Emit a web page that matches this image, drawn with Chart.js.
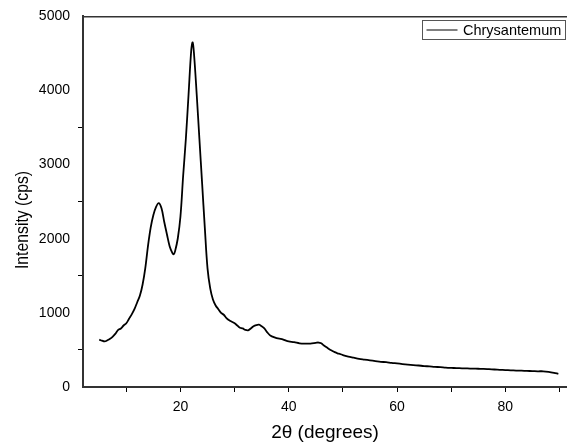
<!DOCTYPE html>
<html><head><meta charset="utf-8">
<script src="https://cdn.jsdelivr.net/npm/chart.js@4/dist/chart.umd.min.js"></script>
<style>html,body{margin:0;padding:0;background:#fff}#wrap{width:567px;height:445px}</style>
</head><body><div id="wrap"><canvas id="c" width="567" height="445"></canvas></div>
<script>
const seriesName = 'Chrysantemum';
const xTitle = '2\u03B8 (degrees)';
const yTitle = 'Intensity (cps)';
const angles = [
  5.0,5.5,6.0,6.5,7.0,7.5,8.0,8.5,9.0,9.5,10.0,10.5,11.0,11.5,12.0,12.5,13.0,13.5,14.0,14.5,
  15.0,15.5,16.0,16.5,17.0,17.5,18.0,18.5,18.75,19.0,19.5,20.0,20.5,21.0,21.5,22.0,22.25,22.5,23.0,23.5,
  24.0,24.5,25.0,25.5,26.0,26.5,27.0,27.5,28.0,28.5,29.0,29.5,30.0,30.5,31.0,31.5,32.0,32.5,33.0,33.5,
  34.0,34.5,35.0,35.5,36.0,36.5,37.0,37.5,38.0,38.5,39.0,39.5,40.0,41.0,42.0,43.0,44.0,45.0,45.5,46.0,
  46.5,47.0,47.5,48.0,48.5,49.0,49.5,50.0,51.0,52.0,53.0,54.0,55.0,56.0,57.0,58.0,59.0,60.0,61.0,62.0,
  63.0,64.0,65.0,66.0,67.0,68.0,69.0,70.0,71.0,72.0,73.0,74.0,75.0,76.0,77.0,78.0,79.0,80.0,81.0,82.0,
  83.0,84.0,85.0,86.0,87.0,88.0,89.0,89.8
];
const intensities = [
  640,625,615,630,650,680,720,770,790,830,860,920,980,1050,1140,1230,1380,1600,1900,2150,
  2320,2430,2480,2410,2230,2060,1900,1810,1790,1830,2000,2300,2850,3350,3950,4550,4650,4500,3950,3350,
  2750,2150,1600,1330,1180,1100,1050,1000,975,930,900,880,860,830,800,790,770,765,790,820,
  835,840,820,790,740,700,680,665,655,650,640,625,615,605,590,585,585,595,600,590,
  560,535,510,490,470,455,445,430,410,395,380,370,360,350,340,335,325,318,310,303,
  296,290,283,278,272,268,262,258,255,252,250,248,246,244,240,236,232,228,225,222,
  220,217,215,212,212,205,192,178
];
const xTickValues = [10,20,30,40,50,60,70,80,90];
const xLabelValues = [20,40,60,80];
const yTickValues = [0,500,1000,1500,2000,2500,3000,3500,4000,4500,5000];
const yLabelValues = [0,1000,2000,3000,4000,5000];
const yMarkedTicks = [500,1500,2500,3500];
const xMin = 2, xMax = 91.4, yMin = 0, yMax = 5000;

const FONT = "'Liberation Sans', Arial, sans-serif";
const points = angles.map((a, i) => ({x: a, y: intensities[i]}));

const legendPlugin = {
  id: 'boxLegend',
  afterDraw(chart) {
    const {ctx, chartArea} = chart;
    const ds = chart.data.datasets[0];
    const right = chartArea.right - 2.5;
    const left = right - 143;
    const top = 20;
    const h = 19;
    ctx.save();
    ctx.strokeStyle = '#555';
    ctx.lineWidth = 1;
    ctx.strokeRect(Math.round(left) + 0.5, top + 0.5, 143, h);
    const cy = top + h / 2 + 0.5;
    ctx.strokeStyle = '#000';
    ctx.beginPath();
    ctx.moveTo(left + 5, cy);
    ctx.lineTo(left + 36, cy);
    ctx.stroke();
    ctx.fillStyle = '#000';
    ctx.font = "14.5px " + FONT;
    ctx.textBaseline = 'middle';
    ctx.textAlign = 'left';
    ctx.fillText(ds.label, left + 41.5, cy + 0.5);
    ctx.restore();
  }
};

const yTitlePlugin = {
  id: 'yTitle',
  afterDraw(chart) {
    const {ctx, chartArea} = chart;
    ctx.save();
    ctx.translate(23, chartArea.bottom - 167);
    ctx.rotate(-Math.PI / 2);
    ctx.scale(0.83, 1);
    ctx.fillStyle = '#000';
    ctx.font = "19px " + FONT;
    ctx.textAlign = 'center';
    ctx.textBaseline = 'middle';
    ctx.fillText(yTitle, 0, 0);
    ctx.restore();
  }
};

new Chart(document.getElementById('c'), {
  type: 'line',
  data: {
    datasets: [{
      label: seriesName,
      data: points,
      borderColor: '#000',
      borderWidth: 1.8,
      pointRadius: 0,
      tension: 0.35,
      fill: false
    }]
  },
  options: {
    responsive: false,
    animation: false,
    devicePixelRatio: 1,
    layout: {padding: 0},
    plugins: {legend: {display: false}, tooltip: {enabled: false}},
    scales: {
      x: {
        type: 'linear', position: 'bottom', min: xMin, max: xMax,
        afterBuildTicks: s => { s.ticks = xTickValues.map(v => ({value: v})); },
        afterFit: s => { s.height = 58; s.paddingRight = 0; s.paddingLeft = 0; },
        ticks: {
          callback: v => xLabelValues.includes(v) ? String(v) : '',
          font: {family: FONT, size: 14}, color: '#000', padding: 7,
          maxRotation: 0, autoSkip: false
        },
        grid: {drawOnChartArea: false, drawTicks: true, tickLength: 5, tickColor: '#000', tickWidth: 1},
        border: {display: true, color: '#333', width: 2},
        title: {display: true, text: xTitle, color: '#000', font: {family: FONT, size: 19}, padding: {top: 0, bottom: 1}}
      },
      x2: {
        type: 'linear', position: 'top', min: xMin, max: xMax,
        ticks: {display: false},
        grid: {display: false, drawTicks: false},
        border: {display: true, color: '#333', width: 1.5},
        afterFit: s => { s.height = 15; }
      },
      y: {
        type: 'linear', position: 'left', min: yMin, max: yMax,
        afterBuildTicks: s => { s.ticks = yTickValues.map(v => ({value: v})); },
        afterFit: s => { s.width = 83; },
        ticks: {
          callback: v => yLabelValues.includes(v) ? String(v) : '',
          font: {family: FONT, size: 14}, color: '#000', padding: 8, autoSkip: false
        },
        grid: {
          drawOnChartArea: false, drawTicks: true, tickLength: 5, tickWidth: 1,
          tickColor: c => (c.tick && yMarkedTicks.includes(c.tick.value)) ? '#000' : 'rgba(0,0,0,0)'
        },
        border: {display: true, color: '#333', width: 2},
        title: {display: false, text: yTitle}
      }
    }
  },
  plugins: [legendPlugin, yTitlePlugin]
});
</script>
</body></html>
